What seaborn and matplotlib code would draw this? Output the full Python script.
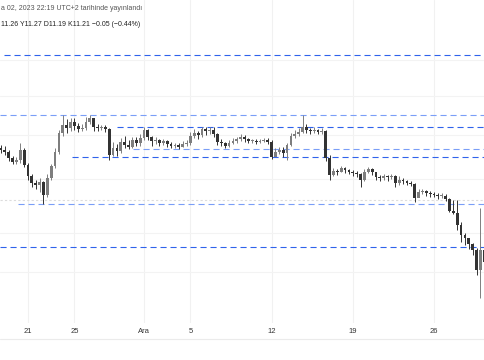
import matplotlib
matplotlib.use("Agg")
import matplotlib.pyplot as plt
import matplotlib.dates as mdates
from matplotlib.lines import Line2D
import numpy as np
import pandas as pd
import seaborn as sns

# ---------------- data ----------------
first_open = 12.35
close = [12.33, 12.31, 12.25, 12.21, 12.23, 12.33, 12.18, 12.07, 12.00, 11.98,
         12.01, 11.88, 12.05, 12.17, 12.31, 12.50, 12.58, 12.55, 12.61, 12.57,
         12.54, 12.55, 12.61, 12.65, 12.56, 12.55, 12.56, 12.54, 12.28, 12.35,
         12.32, 12.41, 12.38, 12.36, 12.43, 12.40, 12.45, 12.53, 12.46, 12.42,
         12.43, 12.40, 12.42, 12.39, 12.37, 12.38, 12.36, 12.39, 12.40, 12.47,
         12.50, 12.48, 12.54, 12.52, 12.53, 12.49, 12.41, 12.40, 12.37, 12.40,
         12.42, 12.44, 12.46, 12.44, 12.42, 12.42, 12.41, 12.42, 12.43, 12.41,
         12.26, 12.31, 12.33, 12.30, 12.38, 12.47, 12.49, 12.51, 12.56, 12.53,
         12.52, 12.53, 12.51, 12.52, 12.25, 12.08, 12.12, 12.11, 12.15, 12.13,
         12.11, 12.10, 12.09, 12.03, 12.11, 12.14, 12.11, 12.06, 12.05, 12.07,
         12.06, 12.07, 12.00, 12.03, 12.02, 12.00, 11.99, 11.85, 11.91, 11.92,
         11.90, 11.89, 11.88, 11.87, 11.87, 11.84, 11.72, 11.70, 11.58, 11.48,
         11.45, 11.39, 11.33, 11.13, 11.33, 11.21]
high = [12.38, 12.37, 12.33, 12.27, 12.26, 12.40, 12.35, 12.20, 12.09, 12.03,
        12.05, 12.02, 12.09, 12.19, 12.35, 12.53, 12.68, 12.64, 12.65, 12.65,
        12.60, 12.59, 12.66, 12.68, 12.65, 12.59, 12.58, 12.58, 12.55, 12.41,
        12.39, 12.45, 12.47, 12.43, 12.46, 12.46, 12.49, 12.56, 12.54, 12.47,
        12.46, 12.44, 12.44, 12.43, 12.41, 12.40, 12.40, 12.42, 12.43, 12.51,
        12.54, 12.52, 12.56, 12.56, 12.56, 12.56, 12.50, 12.44, 12.41, 12.43,
        12.45, 12.46, 12.49, 12.48, 12.45, 12.44, 12.44, 12.44, 12.45, 12.45,
        12.43, 12.35, 12.36, 12.36, 12.40, 12.50, 12.53, 12.55, 12.68, 12.59,
        12.55, 12.56, 12.54, 12.55, 12.53, 12.28, 12.15, 12.14, 12.17, 12.16,
        12.14, 12.13, 12.12, 12.10, 12.14, 12.16, 12.15, 12.10, 12.08, 12.09,
        12.08, 12.09, 12.08, 12.07, 12.05, 12.03, 12.02, 12.00, 11.94, 11.94,
        11.93, 11.92, 11.91, 11.90, 11.90, 11.89, 11.85, 11.83, 11.83, 11.61,
        11.50, 11.45, 11.40, 11.35, 11.75, 11.38]
low = [12.30, 12.28, 12.22, 12.19, 12.19, 12.20, 12.16, 12.03, 11.96, 11.94,
       11.91, 11.79, 11.86, 12.03, 12.15, 12.29, 12.47, 12.50, 12.52, 12.53,
       12.51, 12.52, 12.53, 12.59, 12.52, 12.52, 12.53, 12.51, 12.23, 12.27,
       12.27, 12.30, 12.35, 12.34, 12.35, 12.37, 12.37, 12.43, 12.43, 12.37,
       12.39, 12.37, 12.38, 12.36, 12.35, 12.35, 12.34, 12.36, 12.37, 12.38,
       12.45, 12.44, 12.46, 12.48, 12.49, 12.46, 12.38, 12.37, 12.35, 12.36,
       12.39, 12.40, 12.42, 12.41, 12.40, 12.40, 12.39, 12.40, 12.41, 12.39,
       12.24, 12.27, 12.29, 12.26, 12.23, 12.37, 12.45, 12.47, 12.50, 12.50,
       12.49, 12.50, 12.49, 12.49, 12.22, 12.03, 12.07, 12.08, 12.11, 12.10,
       12.09, 12.07, 12.06, 11.96, 12.02, 12.10, 12.08, 12.03, 12.02, 12.03,
       12.02, 12.04, 11.96, 11.98, 11.99, 11.98, 11.97, 11.81, 11.87, 11.89,
       11.87, 11.86, 11.86, 11.84, 11.85, 11.82, 11.71, 11.69, 11.53, 11.41,
       11.38, 11.34, 11.28, 11.08, 10.85, 11.19]
start_time = "2023-11-18 16:00"
bar_freq = "8h"

# horizontal levels drawn on the chart
strong_levels = [13.28, 12.56, 12.26, 11.36]
strong_starts = ["2023-11-18 22:00", "2023-11-28 16:00", "2023-11-24 19:00", None]
light_levels = [12.68, 12.34, 11.79]
light_starts = [None, "2023-11-30 01:00", "2023-11-20 03:30"]
dotted_level = 11.83

grid_prices = [13.23, 12.87, 12.48, 12.04, 11.50, 11.11]
tick_dates = ["2023-11-21", "2023-11-25", "2023-12-01", "2023-12-05",
              "2023-12-12", "2023-12-19", "2023-12-26"]
tick_labels = ["21", "25", "Ara", "5", "12", "19", "26"]

header1 = "a 02, 2023 22:19 UTC+2 tarihinde yayınlandı"
header2 = "11.26 Y11.27 D11.19 K11.21 \u22120.05 (\u22120.44%)"

# ---------------- build frame ----------------
times = pd.date_range(start_time, periods=len(close), freq=bar_freq)
opens = [first_open] + close[:-1]
df = pd.DataFrame({"time": times, "open": opens, "close": close,
                   "high": high, "low": low})
df["x"] = mdates.date2num(df["time"])
df["up"] = df["close"] >= df["open"]

# ---------------- style ----------------
sns.set_theme(style="white")
plt.rcParams["font.family"] = ["Liberation Sans", "DejaVu Sans"]

fig = plt.figure(figsize=(4.85, 3.6), dpi=100)
ax = fig.add_axes([0, 37 / 360, 1, 323 / 360])
ax.set_facecolor("white")

xl = mdates.date2num(pd.Timestamp("2023-11-18 14:04"))
xr = mdates.date2num(pd.Timestamp("2023-12-30 09:32"))
ax.set_xlim(xl, xr)
ax.set_ylim(10.60, 13.83)

# grid
tick_x = mdates.date2num(pd.to_datetime(tick_dates))
for tx in tick_x:
    ax.axvline(tx, color="#f1f1f1", lw=0.8, zorder=0)
for gp in grid_prices:
    ax.axhline(gp, color="#f3f3f3", lw=0.8, zorder=0)

# levels
def draw_level(price, start, color):
    x0 = xl if start is None else mdates.date2num(pd.Timestamp(start))
    ax.hlines(price, x0, xr, colors=color, lw=0.8,
              linestyles=(0, (5.5, 3.5)), zorder=3)

for p, s in zip(strong_levels, strong_starts):
    draw_level(p, s, "#2f62ec")
for p, s in zip(light_levels, light_starts):
    draw_level(p, s, "#7a9ef7")
ax.axhline(dotted_level, color="#dcdcdc", lw=0.8, linestyle=(0, (2, 2)), zorder=1)

# candles
up_col, dn_col = "#7e7e7e", "#333333"
cols = np.where(df["up"], up_col, dn_col)
ax.vlines(df["x"], df["low"], df["high"], colors=cols, lw=0.7, zorder=4)
body_bottom = np.minimum(df["open"], df["close"])
body_h = np.maximum(np.abs(df["close"] - df["open"]), 0.012)
ax.bar(df["x"], body_h, bottom=body_bottom, width=0.24, color=cols,
       linewidth=0, zorder=5)

# axes cosmetics
for sp in ax.spines.values():
    sp.set_visible(False)
ax.set_yticks([])
ax.set_xticks(tick_x)
ax.set_xticklabels(tick_labels)
ax.tick_params(axis="x", length=0, pad=3.5, labelsize=5.5, colors="#333333")
ax.set_xlabel("")
ax.set_ylabel("")

fig.add_artist(Line2D([0, 1], [21 / 360, 21 / 360], color="#ebebeb", lw=0.8))

fig.text(0.002, 1 - 9 / 360, header1, fontsize=5.0, color="#555555", va="center", ha="left")
fig.text(0.002, 1 - 25 / 360, header2, fontsize=5.0, color="#222222", va="center", ha="left")

fig.savefig("out.png", dpi=100, facecolor="white")
